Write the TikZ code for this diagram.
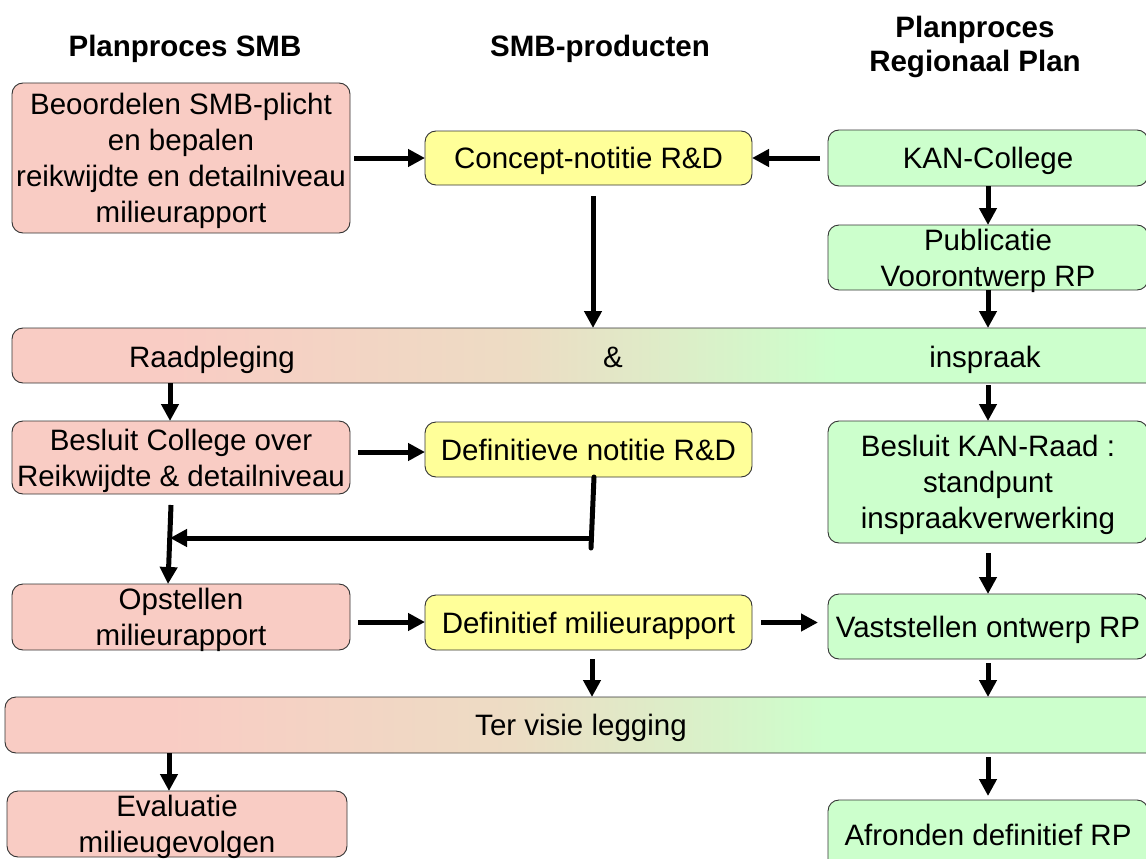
\documentclass[tikz,border=0pt]{standalone}
\usepackage{fontspec}
\setmainfont{Liberation Sans}
\usetikzlibrary{arrows.meta,calc}
\definecolor{pinkc}{HTML}{F9CCC4}
\definecolor{yellowc}{HTML}{FFFF99}
\definecolor{greenc}{HTML}{CCFFCC}
\definecolor{tanc}{HTML}{EDDCC4}
\definecolor{edgec}{HTML}{333333}
\pgfdeclarehorizontalshading{barshade}{100bp}{color(0bp)=(pinkc); color(32bp)=(pinkc); color(47bp)=(tanc); color(61bp)=(greenc); color(100bp)=(greenc)}
\begin{document}
\begin{tikzpicture}[x=1pt,y=-1pt,
  box/.style={draw=edgec, line width=0.9pt, rounded corners=11pt, anchor=north west,
    inner sep=0pt, outer sep=0pt, align=center, text depth=0pt, font=\fontsize{29.5}{36}\selectfont},
  pbox/.style={box, fill=pinkc},
  ybox/.style={box, fill=yellowc},
  gbox/.style={box, fill=greenc},
  barbox/.style={box, shading=barshade, shading angle=0},
  hdr/.style={font=\fontsize{29.5}{34}\selectfont\bfseries, align=center, inner sep=0pt},
  lbl/.style={font=\fontsize{29.5}{36}\selectfont, inner sep=0pt, anchor=base},
  arr/.style={line width=5pt, -{Triangle[length=17pt,width=17pt]}},
  ln/.style={line width=5pt, line cap=round}]
\useasboundingbox (0,0) rectangle (1146,859);
\clip (0,0) rectangle (1146,859);

% headers
\node[hdr] (h1) at (185,49) {Planproces SMB};
\node[hdr] (h2) at (600,49) {SMB-producten};
\node[hdr] (h3) at (975,47) {Planproces\\Regionaal Plan};

% boxes
\node[pbox, minimum width=338pt, minimum height=150pt] (b1) at (12,83)
  {Beoordelen SMB-plicht\\en bepalen\\reikwijdte en detailniveau\\milieurapport};
\node[ybox, minimum width=327pt, minimum height=54pt] (c1) at (425,131) {Concept-notitie R\&D};
\node[gbox, minimum width=320pt, minimum height=56pt] (g1) at (828,130) {KAN-College};
\node[gbox, minimum width=320pt, minimum height=65pt] (g2) at (828,225) {Publicatie\\Voorontwerp RP};

\node[barbox, minimum width=1148pt, minimum height=55pt] (bar1) at (12,328) {};
\node[lbl] (t1) at (212,367) {Raadpleging};
\node[lbl] (t2) at (613,367) {\&};
\node[lbl] (t3) at (985,367) {inspraak};

\node[pbox, minimum width=338pt, minimum height=73pt] (p2) at (12,421)
  {Besluit College over\\Reikwijdte \& detailniveau};
\node[ybox, minimum width=327pt, minimum height=55pt] (y2) at (425,422) {Definitieve notitie R\&D};
\node[gbox, minimum width=320pt, minimum height=122pt] (g3) at (828,421)
  {Besluit KAN-Raad :\\standpunt\\inspraakverwerking};

\node[pbox, minimum width=338pt, minimum height=66pt] (p3) at (12,584) {Opstellen\\milieurapport};
\node[ybox, minimum width=327pt, minimum height=55pt] (y3) at (425,595) {Definitief milieurapport};
\node[gbox, minimum width=320pt, minimum height=65pt] (g4) at (828,594) {Vaststellen ontwerp RP};

\node[barbox, minimum width=1152pt, minimum height=56pt] (bar2) at (5,697) {Ter visie legging};

\node[pbox, minimum width=340pt, minimum height=66pt] (p4) at (7,791) {Evaluatie\\milieugevolgen};
\node[gbox, minimum width=320pt, minimum height=70pt] (g5) at (828,800) {Afronden definitief RP};

% connectors
\coordinate (s1) at ($(b1.east)+(4,0)$);
\draw[arr] (s1) -- (c1.west);
\coordinate (s2) at ($(g1.west)+(-8,0)$);
\draw[arr] (s2) -- (c1.east);
\coordinate (s3) at ($(c1.south)+(4.5,11)$);
\draw[arr] (s3) -- (s3 |- bar1.north);
\draw[arr] (g1.south) -- (g2.north);
\draw[arr] (g2.south) -- (g2.south |- bar1.north);

\coordinate (s6) at ($(bar1.south west)+(158,0)$);
\draw[arr] (s6) -- (s6 |- p2.north);
\coordinate (s7) at ($(g3.north |- bar1.south)+(0,2)$);
\draw[arr] (s7) -- (g3.north);

\coordinate (s8) at ($(p2.east)+(8,-5.5)$);
\draw[arr] (s8) -- (s8 -| y2.west);
\coordinate (s9) at ($(y2.south)+(5.5,0)$);
\coordinate (s10) at ($(y2.south)+(2.5,71)$);
\draw[ln] (s9) -- (s10);
\coordinate (s11) at ($(y2.south)+(2.5,61)$);
\coordinate (e11) at ($(s11 -| p2.west)+(158,0)$);
\draw[arr] (s11) -- (e11);
\coordinate (s12) at ($(p2.south west)+(159,11)$);
\coordinate (e12) at ($(p3.north west)+(156,0)$);
\draw[arr] (s12) -- (e12);

\coordinate (s13) at ($(g3.south)+(0,10)$);
\draw[arr] (s13) -- (g4.north);

\coordinate (s14) at ($(p3.east)+(8,5)$);
\draw[arr] (s14) -- (s14 -| y3.west);
\coordinate (s15) at ($(y3.east)+(9,0)$);
\coordinate (e15) at ($(y3.east -| g4.west)+(-10,0)$);
\draw[arr] (s15) -- (e15);
\coordinate (s16) at ($(y3.south)+(3.5,9)$);
\draw[arr] (s16) -- (s16 |- bar2.north);
\coordinate (s17) at ($(g4.south)+(0,4)$);
\draw[arr] (s17) -- (g4.south |- bar2.north);

\coordinate (s18) at ($(bar2.south west)+(164,0)$);
\draw[arr] (s18) -- (s18 |- p4.north);
\coordinate (s19) at ($(g5.north |- bar2.south)+(0,4)$);
\draw[arr, shorten >=4pt] (s19) -- (g5.north);
\end{tikzpicture}
\end{document}
